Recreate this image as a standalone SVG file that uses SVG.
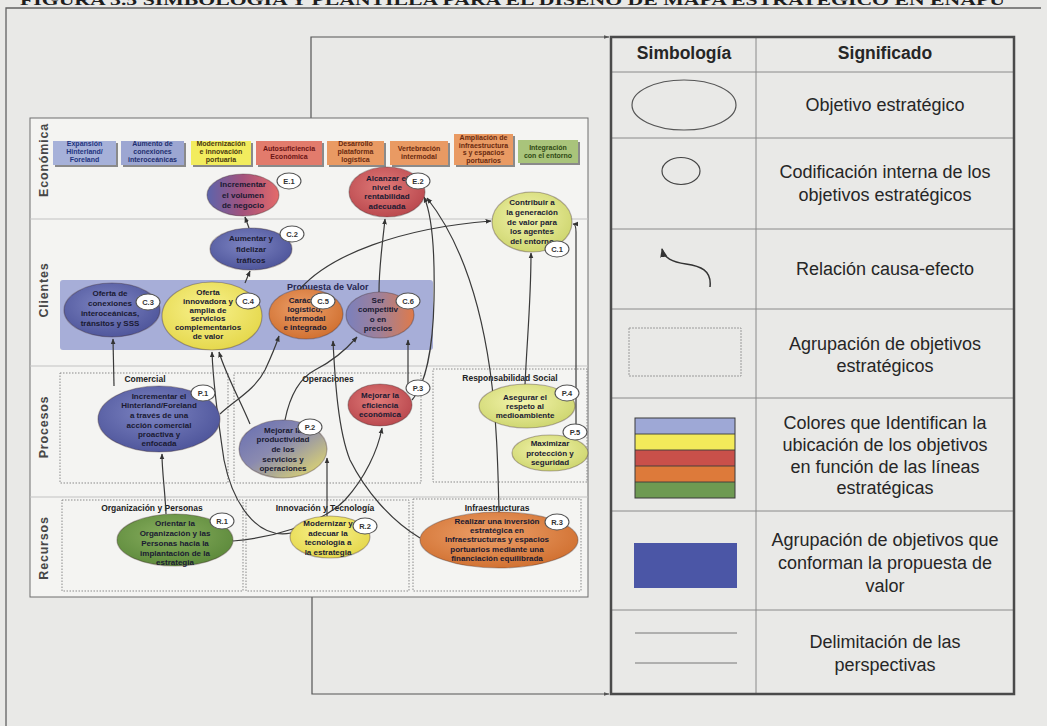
<svg xmlns="http://www.w3.org/2000/svg" width="1047" height="726" viewBox="0 0 1047 726">
  <defs>
    <style>
      .nt { font-family: "Liberation Sans", Arial, sans-serif; font-weight: bold; font-size: 8px; fill: #1a1a32; text-anchor: middle; }
      .bt { font-family: "Liberation Sans", Arial, sans-serif; font-weight: bold; font-size: 7px; text-anchor: middle; }
      .tag ellipse { fill: #ffffff; stroke: #555555; stroke-width: 1.1; }
      .tag text { font-family: "Liberation Sans", Arial, sans-serif; font-weight: bold; font-size: 7.5px; fill: #333333; text-anchor: middle; }
      .node > ellipse { stroke: rgba(60,40,40,0.35); stroke-width: 1.2; }
      .conn path { fill: none; stroke: #3a3a3a; stroke-width: 1.2; marker-end: url(#ah); }
      .grp { fill: none; stroke: #8a8a8a; stroke-width: 1; stroke-dasharray: 1.5 1.5; }
      .gt { font-family: "Liberation Sans", Arial, sans-serif; font-weight: bold; font-size: 8.5px; fill: #222222; text-anchor: middle; }
      .persp { font-family: "Liberation Sans", Arial, sans-serif; font-weight: bold; font-size: 12.5px; fill: #474747; text-anchor: middle; letter-spacing: 0.8px; }
      .sep { stroke: #c2c2c2; stroke-width: 1; }
      .lg { font-family: "Liberation Sans", Arial, sans-serif; font-size: 18px; fill: #262626; text-anchor: middle; }
      .lh { font-family: "Liberation Sans", Arial, sans-serif; font-size: 17.5px; font-weight: bold; fill: #262626; text-anchor: middle; }
      .rule { stroke: #8a8a8a; stroke-width: 1; }
      .frame { fill: none; stroke: #626262; stroke-width: 1.3; }
    </style>
    <marker id="ah" viewBox="0 0 10 10" refX="9" refY="5" markerWidth="6" markerHeight="6" orient="auto" markerUnits="userSpaceOnUse">
      <path d="M0,1 L10,5 L0,9 z" fill="#333333"/>
    </marker>
    <marker id="ahL" viewBox="0 0 10 10" refX="9" refY="5" markerWidth="9" markerHeight="9" orient="auto" markerUnits="userSpaceOnUse">
      <path d="M0,1 L10,5 L0,9 z" fill="#333333"/>
    </marker>
    <marker id="ahS" viewBox="0 0 10 10" refX="9" refY="5" markerWidth="6" markerHeight="6" orient="auto" markerUnits="userSpaceOnUse">
      <path d="M0,2 L10,5 L0,8 z" fill="#555555"/>
    </marker>
    <radialGradient id="gBlue" cx="45%" cy="40%" r="65%"><stop offset="0" stop-color="#7d84c2"/><stop offset="1" stop-color="#4c5399"/></radialGradient>
    <radialGradient id="gRed" cx="45%" cy="40%" r="65%"><stop offset="0" stop-color="#e07a78"/><stop offset="1" stop-color="#b8464c"/></radialGradient>
    <radialGradient id="gYel" cx="45%" cy="40%" r="65%"><stop offset="0" stop-color="#f8f28e"/><stop offset="1" stop-color="#e4d648"/></radialGradient>
    <radialGradient id="gYG" cx="45%" cy="40%" r="65%"><stop offset="0" stop-color="#f3f4ac"/><stop offset="1" stop-color="#ccd46c"/></radialGradient>
    <radialGradient id="gOra" cx="45%" cy="40%" r="65%"><stop offset="0" stop-color="#eda06a"/><stop offset="1" stop-color="#cf6e2e"/></radialGradient>
    <radialGradient id="gGrn" cx="45%" cy="40%" r="65%"><stop offset="0" stop-color="#88ae5e"/><stop offset="1" stop-color="#5b883a"/></radialGradient>
    <linearGradient id="gE1" x1="0" y1="0" x2="1" y2="0"><stop offset="0" stop-color="#5c64ac"/><stop offset="0.5" stop-color="#a4527c"/><stop offset="1" stop-color="#e46a6a"/></linearGradient>
    <linearGradient id="gC6" x1="0" y1="0" x2="1" y2="0"><stop offset="0" stop-color="#7a80bd"/><stop offset="0.5" stop-color="#a08098"/><stop offset="1" stop-color="#df7a4a"/></linearGradient>
    <linearGradient id="gP2" x1="0" y1="0" x2="1" y2="1"><stop offset="0" stop-color="#666db2"/><stop offset="0.45" stop-color="#8a8ab0"/><stop offset="1" stop-color="#ece266"/></linearGradient>
  </defs>

  <!-- page -->
  <rect x="0" y="0" width="1047" height="726" fill="#e9e9e7"/>
  <text x="20" y="5" font-family="'Liberation Serif', 'Times New Roman', serif" font-weight="bold" font-size="14" fill="#1e1e1e" textLength="985" lengthAdjust="spacingAndGlyphs">FIGURA 3.5 SIMBOLOGÍA Y PLANTILLA PARA EL DISEÑO DE MAPA ESTRATÉGICO EN ENAPU</text>
  <path class="frame" d="M6,726 L6,8 L1041,8"/>

  <!-- bracket linking the map with its legend -->
  <g id="bracket" fill="none" stroke="#555555" stroke-width="1.2">
    <path d="M311,118 L311,37 L609,37" marker-end="url(#ahS)"/>
    <path d="M312,597 L312,694 L609,694" marker-end="url(#ahS)"/>
  </g>

  <!-- strategy map -->
  <g id="map">
    <rect x="30" y="118" width="558" height="479" fill="#f4f4f2" stroke="#6e6e6e" stroke-width="1"/>
    <line class="sep" x1="30" y1="219" x2="588" y2="219"/>
    <line class="sep" x1="30" y1="366" x2="588" y2="366"/>
    <line class="sep" x1="30" y1="497" x2="588" y2="497"/>
    <text class="persp" transform="translate(48,160) rotate(-90)">Económica</text>
    <text class="persp" transform="translate(48,290) rotate(-90)">Clientes</text>
    <text class="persp" transform="translate(48,427) rotate(-90)">Procesos</text>
    <text class="persp" transform="translate(48,548) rotate(-90)">Recursos</text>

    <!-- strategic lines colour key -->
    <g id="lines-key">
      <g fill="#8a8a8a">
        <rect x="55" y="143" width="63" height="24"/><rect x="123" y="143" width="63" height="24"/>
        <rect x="193" y="143" width="60" height="24"/><rect x="258" y="143" width="66" height="24"/>
        <rect x="329" y="143" width="57" height="24"/><rect x="392" y="143" width="58" height="24"/>
        <rect x="456" y="136" width="59" height="31"/><rect x="520" y="142" width="60" height="23"/>
      </g>
      <rect x="53" y="141" width="63" height="24" fill="#a6b1d9"/>
      <rect x="121" y="141" width="63" height="24" fill="#9ca6d2"/>
      <rect x="191" y="141" width="60" height="24" fill="#f2ec5e"/>
      <rect x="256" y="141" width="66" height="24" fill="#e27b6c"/>
      <rect x="327" y="141" width="57" height="24" fill="#e99a63"/>
      <rect x="390" y="141" width="58" height="24" fill="#e99a63"/>
      <rect x="454" y="134" width="59" height="31" fill="#e99a63"/>
      <rect x="518" y="140" width="60" height="23" fill="#a9c47b"/>
      <text class="bt" fill="#1f3480"><tspan x="84.5" y="146">Expansión</tspan><tspan x="84.5" y="154">Hinterland/</tspan><tspan x="84.5" y="162">Foreland</tspan></text>
      <text class="bt" fill="#1f2f70"><tspan x="152.5" y="146">Aumento de</tspan><tspan x="152.5" y="154">conexiones</tspan><tspan x="152.5" y="162">interoceánicas</tspan></text>
      <text class="bt" fill="#4a3a10"><tspan x="221" y="146">Modernización</tspan><tspan x="221" y="154">e innovación</tspan><tspan x="221" y="162">portuaria</tspan></text>
      <text class="bt" fill="#6a1414"><tspan x="289" y="151">Autosuficiencia</tspan><tspan x="289" y="159">Económica</tspan></text>
      <text class="bt" fill="#6a2a10"><tspan x="355.5" y="146">Desarrollo</tspan><tspan x="355.5" y="154">plataforma</tspan><tspan x="355.5" y="162">logística</tspan></text>
      <text class="bt" fill="#6a2a10"><tspan x="419" y="151">Vertebración</tspan><tspan x="419" y="159">intermodal</tspan></text>
      <text class="bt" fill="#6a2a10"><tspan x="483.5" y="140">Ampliación de</tspan><tspan x="483.5" y="147.5">infraestructura</tspan><tspan x="483.5" y="155">s y espacios</tspan><tspan x="483.5" y="162.5">portuarios</tspan></text>
      <text class="bt" fill="#2f4a14"><tspan x="548" y="150">Integración</tspan><tspan x="548" y="158">con el entorno</tspan></text>
    </g>

    <!-- value proposition band -->
    <g id="propuesta-valor">
      <rect x="60" y="280" width="373" height="70" rx="3" fill="#a7aed8"/>
      <text x="287" y="290" font-family="'Liberation Sans', Arial, sans-serif" font-weight="bold" font-size="9" fill="#262650">Propuesta de Valor</text>
    </g>

    <!-- objective groupings -->
    <g id="groupings">
      <rect class="grp" x="60" y="373" width="168" height="110"/>
      <text class="gt" x="145" y="382">Comercial</text>
      <rect class="grp" x="234" y="373" width="187" height="110"/>
      <text class="gt" x="328" y="382">Operaciones</text>
      <rect class="grp" x="433" y="369" width="154" height="113"/>
      <text class="gt" x="510" y="381">Responsabilidad Social</text>
      <rect class="grp" x="62" y="500" width="181" height="91"/>
      <text class="gt" x="152" y="511" font-size="9">Organización y Personas</text>
      <rect class="grp" x="246" y="500" width="163" height="91"/>
      <text class="gt" x="325" y="511" font-size="9">Innovación y Tecnología</text>
      <rect class="grp" x="413" y="499" width="168" height="92"/>
      <text class="gt" x="497" y="511" font-size="9">Infraestructuras</text>
    </g>

    <!-- cause-effect relations -->
    <g id="connectors" class="conn">
      <path d="M249,228 L245,217"/>
      <path d="M245,283 L250,271"/>
      <path d="M114,386 L113,339"/>
      <path d="M166,514 C165,490 162,472 162,454"/>
      <path d="M300,289 C330,255 400,228 491,221"/>
      <path d="M379,292 C379,265 383,240 385,219"/>
      <path d="M412,400 C425,385 433,350 434,300 C435,250 432,215 424,197"/>
      <path d="M499,512 C498,470 497,420 490,370 C480,300 460,240 427,198"/>
      <path d="M525,385 C527,340 531,300 531,253"/>
      <path d="M576,437 L576,232 C576,226 575,224 573,224"/>
      <path d="M408,386 L408,340"/>
      <path d="M220,414 C235,400 255,390 265,370 C272,355 276,345 279,336"/>
      <path d="M285,420 C290,395 300,378 315,370 C335,360 350,345 357,337"/>
      <path d="M420,538 C390,520 365,490 350,460 C338,430 335,380 333,341"/>
      <path d="M327,516 L327,458"/>
      <path d="M233,541 C270,538 320,525 345,500 C365,478 378,450 382,428"/>
      <path d="M291,533 C255,540 232,500 224,460 C218,420 213,380 212,352"/>
      <path d="M250,424 C240,400 226,375 219,352"/>
    </g>

    <!-- strategic objectives -->
    <g id="node-e1" class="node">
      <ellipse cx="243" cy="195" rx="36" ry="21" fill="url(#gE1)"/>
      <text class="nt"><tspan x="243" y="187">Incrementar</tspan><tspan x="243" y="197.5">el volumen</tspan><tspan x="243" y="208">de negocio</tspan></text>
      <g class="tag"><ellipse cx="289" cy="181" rx="12" ry="8"/><text x="289" y="184">E.1</text></g>
    </g>
    <g id="node-c2" class="node">
      <ellipse cx="251" cy="249" rx="41" ry="21" fill="url(#gBlue)"/>
      <text class="nt"><tspan x="251" y="241">Aumentar y</tspan><tspan x="251" y="252">fidelizar</tspan><tspan x="251" y="263">tráficos</tspan></text>
      <g class="tag"><ellipse cx="292" cy="234" rx="12" ry="8"/><text x="292" y="237">C.2</text></g>
    </g>
    <g id="node-e2" class="node">
      <ellipse cx="387" cy="192" rx="38" ry="25" fill="url(#gRed)"/>
      <text class="nt"><tspan x="387" y="181">Alcanzar el</tspan><tspan x="387" y="190">nivel de</tspan><tspan x="387" y="199">rentabilidad</tspan><tspan x="387" y="209">adecuada</tspan></text>
      <g class="tag"><ellipse cx="418" cy="181" rx="12" ry="8"/><text x="418" y="184">E.2</text></g>
    </g>
    <g id="node-c1" class="node">
      <ellipse cx="532" cy="222" rx="40" ry="30" fill="url(#gYG)"/>
      <text class="nt"><tspan x="532" y="205">Contribuir a</tspan><tspan x="532" y="215">la generación</tspan><tspan x="532" y="225">de valor para</tspan><tspan x="532" y="234">los agentes</tspan><tspan x="532" y="244">del entorno</tspan></text>
      <g class="tag"><ellipse cx="557" cy="249" rx="12" ry="8"/><text x="557" y="252">C.1</text></g>
    </g>
    <g id="node-c3" class="node">
      <ellipse cx="112" cy="310" rx="48" ry="27" fill="url(#gBlue)"/>
      <text class="nt"><tspan x="110" y="296">Oferta de</tspan><tspan x="110" y="306">conexiones</tspan><tspan x="110" y="316">interoceánicas,</tspan><tspan x="110" y="326">tránsitos y SSS</tspan></text>
      <g class="tag"><ellipse cx="148" cy="302" rx="12" ry="8"/><text x="148" y="305">C.3</text></g>
    </g>
    <g id="node-c4" class="node">
      <ellipse cx="212" cy="316" rx="50" ry="34" fill="url(#gYel)"/>
      <text class="nt"><tspan x="208" y="295">Oferta</tspan><tspan x="208" y="304">innovadora y</tspan><tspan x="208" y="312.5">amplia de</tspan><tspan x="208" y="321">servicios</tspan><tspan x="208" y="330">complementarios</tspan><tspan x="208" y="339">de valor</tspan></text>
      <g class="tag"><ellipse cx="248" cy="301" rx="12" ry="8"/><text x="248" y="304">C.4</text></g>
    </g>
    <g id="node-c5" class="node">
      <ellipse cx="306" cy="314" rx="37" ry="25" fill="url(#gOra)"/>
      <text class="nt"><tspan x="305" y="303">Carácter</tspan><tspan x="305" y="312">logístico,</tspan><tspan x="305" y="320.5">intermodal</tspan><tspan x="305" y="330">e integrado</tspan></text>
      <g class="tag"><ellipse cx="323" cy="301" rx="12" ry="8"/><text x="323" y="304">C.5</text></g>
    </g>
    <g id="node-c6" class="node">
      <ellipse cx="380" cy="315" rx="34" ry="23" fill="url(#gC6)"/>
      <text class="nt"><tspan x="378" y="303">Ser</tspan><tspan x="378" y="312">competitiv</tspan><tspan x="378" y="322">o en</tspan><tspan x="378" y="330.5">precios</tspan></text>
      <g class="tag"><ellipse cx="408" cy="301" rx="12" ry="8"/><text x="408" y="304">C.6</text></g>
    </g>
    <g id="node-p1" class="node">
      <ellipse cx="159" cy="419" rx="61" ry="33" fill="url(#gBlue)"/>
      <text class="nt"><tspan x="159" y="399">Incrementar el</tspan><tspan x="159" y="408">Hinterland/Foreland</tspan><tspan x="159" y="418">a través de una</tspan><tspan x="159" y="428">acción comercial</tspan><tspan x="159" y="437">proactiva y</tspan><tspan x="159" y="446">enfocada</tspan></text>
      <g class="tag"><ellipse cx="203" cy="393" rx="12" ry="8"/><text x="203" y="396">P.1</text></g>
    </g>
    <g id="node-p2" class="node">
      <ellipse cx="283" cy="449" rx="44" ry="29" fill="url(#gP2)"/>
      <text class="nt"><tspan x="283" y="433">Mejorar la</tspan><tspan x="283" y="442">productividad</tspan><tspan x="283" y="452">de los</tspan><tspan x="283" y="462">servicios y</tspan><tspan x="283" y="471">operaciones</tspan></text>
      <g class="tag"><ellipse cx="310" cy="427" rx="12" ry="8"/><text x="310" y="430">P.2</text></g>
    </g>
    <g id="node-p3" class="node">
      <ellipse cx="380" cy="405" rx="32" ry="21" fill="url(#gRed)"/>
      <text class="nt"><tspan x="380" y="398">Mejorar la</tspan><tspan x="380" y="408">eficiencia</tspan><tspan x="380" y="417">económica</tspan></text>
      <g class="tag"><ellipse cx="418" cy="388" rx="12" ry="8"/><text x="418" y="391">P.3</text></g>
    </g>
    <g id="node-p4" class="node">
      <ellipse cx="527" cy="406" rx="48" ry="22" fill="url(#gYG)"/>
      <text class="nt"><tspan x="525" y="400">Asegurar el</tspan><tspan x="525" y="409">respeto al</tspan><tspan x="525" y="418">medioambiente</tspan></text>
      <g class="tag"><ellipse cx="567" cy="393" rx="12" ry="8"/><text x="567" y="396">P.4</text></g>
    </g>
    <g id="node-p5" class="node">
      <ellipse cx="550" cy="453" rx="38" ry="18" fill="url(#gYG)"/>
      <text class="nt"><tspan x="550" y="446">Maximizar</tspan><tspan x="550" y="456">protección y</tspan><tspan x="550" y="465">seguridad</tspan></text>
      <g class="tag"><ellipse cx="575" cy="432" rx="12" ry="8"/><text x="575" y="435">P.5</text></g>
    </g>
    <g id="node-r1" class="node">
      <ellipse cx="175" cy="540" rx="58" ry="26" fill="url(#gGrn)"/>
      <text class="nt"><tspan x="175" y="526">Orientar la</tspan><tspan x="175" y="536">Organización y las</tspan><tspan x="175" y="546">Personas hacia la</tspan><tspan x="175" y="556">implantación de la</tspan><tspan x="175" y="565">estrategia</tspan></text>
      <g class="tag"><ellipse cx="222" cy="521" rx="12" ry="8"/><text x="222" y="524">R.1</text></g>
    </g>
    <g id="node-r2" class="node">
      <ellipse cx="330" cy="537" rx="40" ry="21" fill="url(#gYel)"/>
      <text class="nt"><tspan x="328" y="526">Modernizar y</tspan><tspan x="328" y="536">adecuar la</tspan><tspan x="328" y="545">tecnología a</tspan><tspan x="328" y="555">la estrategia</tspan></text>
      <g class="tag"><ellipse cx="365" cy="526" rx="12" ry="8"/><text x="365" y="529">R.2</text></g>
    </g>
    <g id="node-r3" class="node">
      <ellipse cx="499" cy="540" rx="79" ry="28" fill="url(#gOra)"/>
      <text class="nt"><tspan x="497" y="524">Realizar una inversión</tspan><tspan x="497" y="533">estratégica en</tspan><tspan x="497" y="542">Infraestructuras y espacios</tspan><tspan x="497" y="552">portuarios mediante una</tspan><tspan x="497" y="561">financiación equilibrada</tspan></text>
      <g class="tag"><ellipse cx="557" cy="522" rx="12" ry="8"/><text x="557" y="525">R.3</text></g>
    </g>
  </g>

  <!-- legend table -->
  <g id="legend">
    <line class="rule" x1="756" y1="37" x2="756" y2="694"/>
    <line class="rule" x1="611" y1="72" x2="1014" y2="72"/>
    <line class="rule" x1="611" y1="138" x2="1014" y2="138"/>
    <line class="rule" x1="611" y1="229" x2="1014" y2="229"/>
    <line class="rule" x1="611" y1="309" x2="1014" y2="309"/>
    <line class="rule" x1="611" y1="398" x2="1014" y2="398"/>
    <line class="rule" x1="611" y1="511" x2="1014" y2="511"/>
    <line class="rule" x1="611" y1="610" x2="1014" y2="610"/>
    <rect x="611" y="37" width="403" height="657" fill="none" stroke="#4a4a4a" stroke-width="2.5"/>

    <text class="lh" x="684" y="59">Simbología</text>
    <text class="lh" x="885" y="59">Significado</text>

    <g id="legend-objective">
      <ellipse cx="684" cy="105" rx="52" ry="25" fill="none" stroke="#555555" stroke-width="1.2"/>
      <text class="lg" x="885" y="111">Objetivo estratégico</text>
    </g>
    <g id="legend-code">
      <ellipse cx="681" cy="171" rx="19" ry="13.5" fill="none" stroke="#444444" stroke-width="1.2"/>
      <text class="lg"><tspan x="885" y="178">Codificación interna de los</tspan><tspan x="885" y="201">objetivos estratégicos</tspan></text>
    </g>
    <g id="legend-relation">
      <path d="M710,287 C712,270 700,266 686,264 C672,262 664,258 662,249" fill="none" stroke="#333333" stroke-width="1.5" marker-end="url(#ahL)"/>
      <text class="lg" x="885" y="275">Relación causa-efecto</text>
    </g>
    <g id="legend-group">
      <rect x="629" y="328" width="112" height="48" fill="none" stroke="#9a9a9a" stroke-width="1" stroke-dasharray="2 1"/>
      <text class="lg"><tspan x="885" y="350">Agrupación de objetivos</tspan><tspan x="885" y="372">estratégicos</tspan></text>
    </g>
    <g id="legend-colours">
      <rect x="635" y="418" width="100" height="16" fill="#9ea8d6"/>
      <rect x="635" y="434" width="100" height="16" fill="#f3ea5a"/>
      <rect x="635" y="450" width="100" height="16" fill="#c9504a"/>
      <rect x="635" y="466" width="100" height="16" fill="#dd7a3a"/>
      <rect x="635" y="482" width="100" height="16" fill="#6e9a52"/>
      <g stroke="#3a3a3a" stroke-width="0.9">
        <line x1="635" y1="434" x2="735" y2="434"/><line x1="635" y1="450" x2="735" y2="450"/>
        <line x1="635" y1="466" x2="735" y2="466"/><line x1="635" y1="482" x2="735" y2="482"/>
      </g>
      <rect x="635" y="418" width="100" height="80" fill="none" stroke="#3a3a3a" stroke-width="1"/>
      <text class="lg"><tspan x="885" y="429">Colores que Identifican la</tspan><tspan x="885" y="451">ubicación de los objetivos</tspan><tspan x="885" y="473">en función de las  líneas</tspan><tspan x="885" y="494">estratégicas</tspan></text>
    </g>
    <g id="legend-value">
      <rect x="634" y="543" width="103" height="45" fill="#4b56a6"/>
      <text class="lg"><tspan x="885" y="546">Agrupación de objetivos que</tspan><tspan x="885" y="569">conforman la propuesta de</tspan><tspan x="885" y="592">valor</tspan></text>
    </g>
    <g id="legend-perspectives">
      <line x1="635" y1="633" x2="737" y2="633" stroke="#777777" stroke-width="1"/>
      <line x1="635" y1="663" x2="737" y2="663" stroke="#777777" stroke-width="1"/>
      <text class="lg"><tspan x="885" y="648">Delimitación de las</tspan><tspan x="885" y="671">perspectivas</tspan></text>
    </g>
  </g>
</svg>
